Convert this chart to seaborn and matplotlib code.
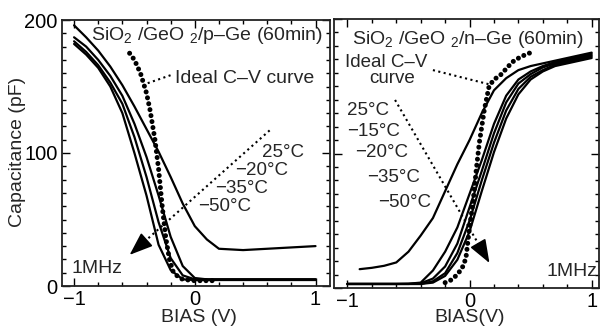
import numpy as np
import pandas as pd
import matplotlib
matplotlib.use("Agg")
import matplotlib.pyplot as plt
from matplotlib.ticker import MultipleLocator
import seaborn as sns

# ---------------- data: left panel (p-Ge) ----------------
V_L = [-1.0, -0.9, -0.8, -0.7, -0.6, -0.5, -0.4, -0.3, -0.2, -0.1, 0.0, 0.1, 0.2, 0.4, 0.6, 0.8, 1.0]
C_L_25 = [196, 187, 177, 165, 151, 135, 118, 101, 82, 62, 45, 35, 28, 27, 28, 29, 30]
C_L_m20 = [187, 180, 170, 158, 143, 122, 97, 68, 37, 15, 6, 5, 5, 5, 5, 5, 5]
C_L_m35 = [184, 176, 166, 153, 137, 112, 82, 48, 21, 8, 5, 5, 5, 5, 5, 5, 5]
C_L_m50 = [182, 174, 164, 150, 130, 100, 68, 31, 12, 5, 4.5, 4.5, 4.5, 4.5, 4.5, 4.5, 4.5]
V_L_ideal = [-0.54, -0.5, -0.45, -0.4, -0.37, -0.33, -0.3, -0.27, -0.24, -0.21, -0.18, -0.14, -0.1, -0.05, 0.0, 0.1, 0.18]
C_L_ideal = [175, 170, 160, 145, 132, 110, 88, 60, 36, 20, 11, 7, 5, 4.5, 4, 4, 4]

# ---------------- data: right panel (n-Ge) ----------------
V_R = [-1.0, -0.9, -0.8, -0.7, -0.6, -0.5, -0.4, -0.3, -0.2, -0.1, 0.0, 0.1, 0.2, 0.3, 0.4, 0.5, 0.6, 0.7, 0.8, 0.9, 1.0]
C_R_25 = [None, 14, 15, 16.5, 19, 27, 39, 52, 72, 92, 110, 130, 147, 156, 162, 165, 167, 169, 171, 173, 175]
C_R_m15 = [3, 3, 3, 3, 3, 3.2, 4, 13, 27, 45, 70, 95, 122, 143, 155, 161, 165, 168, 170, 172, 174]
C_R_m20 = [3, 3, 3, 3, 3, 3, 3.5, 7, 16, 33, 60, 87, 115, 138, 152, 159, 164, 167, 169, 171, 173]
C_R_m35 = [3, 3, 3, 3, 3, 3, 3, 5, 11, 26, 50, 80, 108, 132, 148, 157, 162, 166, 168, 170, 172]
C_R_m50 = [3, 3, 3, 3, 3, 3, 3, 4, 9, 21, 42, 72, 101, 126, 144, 155, 161, 165, 167, 169, 171]
V_R_ideal = [-0.2, -0.15, -0.1, -0.06, -0.03, 0.0, 0.03, 0.055, 0.08, 0.12, 0.16, 0.2, 0.25, 0.3, 0.35, 0.42, 0.5]
C_R_ideal = [4, 6, 10, 15, 22, 45, 65, 88, 108, 132, 150, 155, 158, 163, 168, 172, 175]

temps_L = ["25°C", "−20°C", "−35°C", "−50°C"]
temps_R = ["25°C", "−15°C", "−20°C", "−35°C", "−50°C"]

sns.set_theme(style="ticks")
plt.rcParams["font.family"] = ["Liberation Sans", "DejaVu Sans"]
plt.rcParams["mathtext.fontset"] = "custom"
plt.rcParams["mathtext.rm"] = "Liberation Sans"
plt.rcParams["mathtext.it"] = "Liberation Sans:italic"
plt.rcParams["axes.unicode_minus"] = True

W, H = 602, 329
fig = plt.figure(figsize=(W / 100, H / 100), dpi=100)
axL = fig.add_axes([62 / W, 1 - 286 / H, (330 - 62) / W, (286 - 20) / H])
axR = fig.add_axes([334 / W, 1 - 288 / H, (599 - 334) / W, (288 - 19) / H])

LW = 1.6


def solid(ax, V, C):
    df = pd.DataFrame({"V": V, "C": C}).dropna()
    sns.lineplot(data=df, x="V", y="C", ax=ax, color="black", lw=LW, sort=True, estimator=None)


def ideal(ax, V, C):
    df = pd.DataFrame({"V": V, "C": C})
    sns.lineplot(data=df, x="V", y="C", ax=ax, color="black", lw=3.6, estimator=None,
                 linestyle=(0, (0.01, 1.2)), dash_capstyle="round")


def dotted_arrow(ax, tail, head, frac=0.1):
    mid = (head[0] - frac * (head[0] - tail[0]), head[1] - frac * (head[1] - tail[1]))
    ax.plot([tail[0], mid[0]], [tail[1], mid[1]], color="black", lw=1.5, linestyle=":")
    ax.annotate("", xy=head, xytext=mid,
                arrowprops=dict(arrowstyle="-|>,head_length=1.2,head_width=0.45",
                                lw=1.2, color="black", shrinkA=0, shrinkB=0))


for c in [C_L_25, C_L_m20, C_L_m35, C_L_m50]:
    solid(axL, V_L, c)
ideal(axL, V_L_ideal, C_L_ideal)

for c in [C_R_25, C_R_m15, C_R_m20, C_R_m35, C_R_m50]:
    solid(axR, V_R, c)
ideal(axR, V_R_ideal, C_R_ideal)

axL.set_xlim(-1.10, 1.12)
axR.set_xlim(-1.11, 1.06)
for ax in (axL, axR):
    ax.set_ylim(0, 200)
    ax.set_xticks([-1, 0, 1])
    ax.set_yticks([0, 100, 200])
    ax.xaxis.set_minor_locator(MultipleLocator(0.2))
    ax.yaxis.set_minor_locator(MultipleLocator(10))
    ax.tick_params(which="both", direction="in", top=True, right=True, colors="black", width=1.0)
    ax.tick_params(which="major", length=6, labelsize=14.5, pad=3)
    ax.tick_params(which="minor", length=3)
    for s in ax.spines.values():
        s.set_linewidth(1.3)
        s.set_color("#222222")
    ax.set_ylabel("")
    ax.set_xlabel("")
axR.set_yticklabels([])
axL.set_xticklabels(["−1", "0", "1"])
axR.set_xticklabels(["−1", "0", "1"])

fig.text(199 / W, 1 - 317 / H, "BIAS (V)", ha="center", va="center", fontsize=14)
fig.text(470 / W, 1 - 318 / H, "BIAS(V)", ha="center", va="center", fontsize=14)
fig.text(18 / W, 1 - 152 / H, "Capacitance (pF)", rotation=90, ha="center", va="center", fontsize=14)

# ---------- annotations left ----------
axL.text(-0.86, 188.7, "SiO$_2$ /GeO $_2$/p–Ge (60min)", fontsize=14, ha="left", va="center")
axL.text(-0.165, 156, "Ideal C–V curve", fontsize=14, ha="left", va="center")
axL.plot([-0.39, -0.2], [152.5, 158.5], color="black", lw=1.5, linestyle=":")
for (x, y), t in zip([(0.554, 100.4), (0.33, 86.8), (0.165, 73.2), (0.025, 59.6)], temps_L):
    axL.text(x, y, t, fontsize=13.5, ha="left", va="center")
dotted_arrow(axL, (0.62, 117), (-0.54, 23.4))
axL.text(-1.02, 12.8, "1MHz", fontsize=14, ha="left", va="center")

# ---------- annotations right ----------
axR.text(-0.963, 184.4, "SiO$_2$ /GeO $_2$/n–Ge (60min)", fontsize=14, ha="left", va="center")
axR.text(-1.02, 168, "Ideal C–V", fontsize=13.5, ha="left", va="center")
axR.text(-0.637, 155.5, "curve", fontsize=13.5, ha="center", va="center")
axR.plot([-0.30, 0.18], [162, 151], color="black", lw=1.5, linestyle=":")
for (x, y), t in zip([(-1.0, 132.3), (-1.0, 116), (-0.94, 100.4), (-0.84, 81.8), (-0.75, 63.9)], temps_R):
    axR.text(x, y, t, fontsize=13.5, ha="left", va="center")
dotted_arrow(axR, (-0.61, 139.8), (0.163, 18.6))
axR.text(1.045, 11.9, "1MHz", fontsize=14, ha="right", va="center")

fig.savefig("out.png", dpi=100)
